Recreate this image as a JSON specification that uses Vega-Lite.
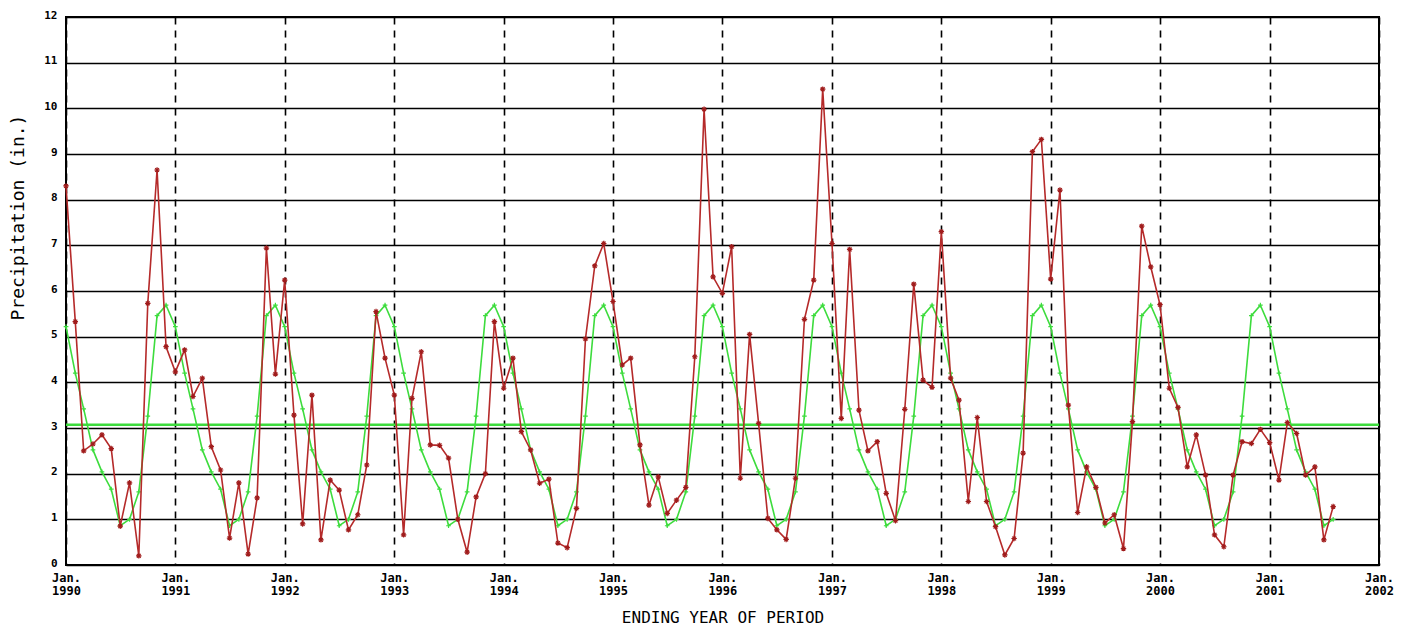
{
  "$schema": "https://vega.github.io/schema/vega-lite/v6.json",
  "autosize": {"type": "none"},
  "width": 1313,
  "height": 548,
  "padding": {"left": 66, "top": 17, "right": 30, "bottom": 61},
  "background": "white",
  "config": {
    "view": {"stroke": "black", "strokeWidth": 2},
    "font": "DejaVu Sans Mono"
  },
  "datasets": {
    "avg": [{"avg": 3.07}],
    "obs": [
      {"date": "1990-01-01", "precip": 8.3, "normal": 5.22},
      {"date": "1990-02-01", "precip": 5.33, "normal": 4.2},
      {"date": "1990-03-01", "precip": 2.5, "normal": 3.42},
      {"date": "1990-04-01", "precip": 2.65, "normal": 2.52},
      {"date": "1990-05-01", "precip": 2.85, "normal": 2.04},
      {"date": "1990-06-01", "precip": 2.55, "normal": 1.66},
      {"date": "1990-07-01", "precip": 0.85, "normal": 0.86},
      {"date": "1990-08-01", "precip": 1.8, "normal": 1.0},
      {"date": "1990-09-01", "precip": 0.2, "normal": 1.6},
      {"date": "1990-10-01", "precip": 5.73, "normal": 3.26},
      {"date": "1990-11-01", "precip": 8.65, "normal": 5.46},
      {"date": "1990-12-01", "precip": 4.78, "normal": 5.69},
      {"date": "1991-01-01", "precip": 4.23, "normal": 5.22},
      {"date": "1991-02-01", "precip": 4.71, "normal": 4.2},
      {"date": "1991-03-01", "precip": 3.69, "normal": 3.42},
      {"date": "1991-04-01", "precip": 4.09, "normal": 2.52},
      {"date": "1991-05-01", "precip": 2.59, "normal": 2.04},
      {"date": "1991-06-01", "precip": 2.08, "normal": 1.66},
      {"date": "1991-07-01", "precip": 0.59, "normal": 0.86},
      {"date": "1991-08-01", "precip": 1.8, "normal": 1.0},
      {"date": "1991-09-01", "precip": 0.24, "normal": 1.6},
      {"date": "1991-10-01", "precip": 1.47, "normal": 3.26},
      {"date": "1991-11-01", "precip": 6.94, "normal": 5.46},
      {"date": "1991-12-01", "precip": 4.18, "normal": 5.69},
      {"date": "1992-01-01", "precip": 6.24, "normal": 5.22},
      {"date": "1992-02-01", "precip": 3.28, "normal": 4.2},
      {"date": "1992-03-01", "precip": 0.9, "normal": 3.42},
      {"date": "1992-04-01", "precip": 3.72, "normal": 2.52},
      {"date": "1992-05-01", "precip": 0.55, "normal": 2.04},
      {"date": "1992-06-01", "precip": 1.86, "normal": 1.66},
      {"date": "1992-07-01", "precip": 1.64, "normal": 0.86},
      {"date": "1992-08-01", "precip": 0.77, "normal": 1.0},
      {"date": "1992-09-01", "precip": 1.1, "normal": 1.6},
      {"date": "1992-10-01", "precip": 2.19, "normal": 3.26},
      {"date": "1992-11-01", "precip": 5.55, "normal": 5.46},
      {"date": "1992-12-01", "precip": 4.53, "normal": 5.69},
      {"date": "1993-01-01", "precip": 3.72, "normal": 5.22},
      {"date": "1993-02-01", "precip": 0.66, "normal": 4.2},
      {"date": "1993-03-01", "precip": 3.65, "normal": 3.42},
      {"date": "1993-04-01", "precip": 4.67, "normal": 2.52},
      {"date": "1993-05-01", "precip": 2.63, "normal": 2.04},
      {"date": "1993-06-01", "precip": 2.62, "normal": 1.66},
      {"date": "1993-07-01", "precip": 2.34, "normal": 0.86},
      {"date": "1993-08-01", "precip": 1.0, "normal": 1.0},
      {"date": "1993-09-01", "precip": 0.28, "normal": 1.6},
      {"date": "1993-10-01", "precip": 1.49, "normal": 3.26},
      {"date": "1993-11-01", "precip": 2.0, "normal": 5.46},
      {"date": "1993-12-01", "precip": 5.33, "normal": 5.69},
      {"date": "1994-01-01", "precip": 3.87, "normal": 5.22},
      {"date": "1994-02-01", "precip": 4.53, "normal": 4.2},
      {"date": "1994-03-01", "precip": 2.92, "normal": 3.42},
      {"date": "1994-04-01", "precip": 2.52, "normal": 2.52},
      {"date": "1994-05-01", "precip": 1.79, "normal": 2.04},
      {"date": "1994-06-01", "precip": 1.88, "normal": 1.66},
      {"date": "1994-07-01", "precip": 0.48, "normal": 0.86},
      {"date": "1994-08-01", "precip": 0.38, "normal": 1.0},
      {"date": "1994-09-01", "precip": 1.24, "normal": 1.6},
      {"date": "1994-10-01", "precip": 4.95, "normal": 3.26},
      {"date": "1994-11-01", "precip": 6.55, "normal": 5.46},
      {"date": "1994-12-01", "precip": 7.04, "normal": 5.69},
      {"date": "1995-01-01", "precip": 5.77, "normal": 5.22},
      {"date": "1995-02-01", "precip": 4.38, "normal": 4.2},
      {"date": "1995-03-01", "precip": 4.53, "normal": 3.42},
      {"date": "1995-04-01", "precip": 2.63, "normal": 2.52},
      {"date": "1995-05-01", "precip": 1.31, "normal": 2.04},
      {"date": "1995-06-01", "precip": 1.93, "normal": 1.66},
      {"date": "1995-07-01", "precip": 1.13, "normal": 0.86},
      {"date": "1995-08-01", "precip": 1.42, "normal": 1.0},
      {"date": "1995-09-01", "precip": 1.7, "normal": 1.6},
      {"date": "1995-10-01", "precip": 4.56, "normal": 3.26},
      {"date": "1995-11-01", "precip": 9.98, "normal": 5.46},
      {"date": "1995-12-01", "precip": 6.31, "normal": 5.69},
      {"date": "1996-01-01", "precip": 5.95, "normal": 5.22},
      {"date": "1996-02-01", "precip": 6.97, "normal": 4.2},
      {"date": "1996-03-01", "precip": 1.9, "normal": 3.42},
      {"date": "1996-04-01", "precip": 5.05, "normal": 2.52},
      {"date": "1996-05-01", "precip": 3.1, "normal": 2.04},
      {"date": "1996-06-01", "precip": 1.02, "normal": 1.66},
      {"date": "1996-07-01", "precip": 0.77, "normal": 0.86},
      {"date": "1996-08-01", "precip": 0.56, "normal": 1.0},
      {"date": "1996-09-01", "precip": 1.9, "normal": 1.6},
      {"date": "1996-10-01", "precip": 5.38, "normal": 3.26},
      {"date": "1996-11-01", "precip": 6.24, "normal": 5.46},
      {"date": "1996-12-01", "precip": 10.42, "normal": 5.69},
      {"date": "1997-01-01", "precip": 7.04, "normal": 5.22},
      {"date": "1997-02-01", "precip": 3.21, "normal": 4.2},
      {"date": "1997-03-01", "precip": 6.91, "normal": 3.42},
      {"date": "1997-04-01", "precip": 3.39, "normal": 2.52},
      {"date": "1997-05-01", "precip": 2.5, "normal": 2.04},
      {"date": "1997-06-01", "precip": 2.7, "normal": 1.66},
      {"date": "1997-07-01", "precip": 1.57, "normal": 0.86},
      {"date": "1997-08-01", "precip": 0.97, "normal": 1.0},
      {"date": "1997-09-01", "precip": 3.41, "normal": 1.6},
      {"date": "1997-10-01", "precip": 6.15, "normal": 3.26},
      {"date": "1997-11-01", "precip": 4.05, "normal": 5.46},
      {"date": "1997-12-01", "precip": 3.89, "normal": 5.69},
      {"date": "1998-01-01", "precip": 7.3, "normal": 5.22},
      {"date": "1998-02-01", "precip": 4.09, "normal": 4.2},
      {"date": "1998-03-01", "precip": 3.61, "normal": 3.42},
      {"date": "1998-04-01", "precip": 1.39, "normal": 2.52},
      {"date": "1998-05-01", "precip": 3.23, "normal": 2.04},
      {"date": "1998-06-01", "precip": 1.39, "normal": 1.66},
      {"date": "1998-07-01", "precip": 0.84, "normal": 0.86},
      {"date": "1998-08-01", "precip": 0.22, "normal": 1.0},
      {"date": "1998-09-01", "precip": 0.58, "normal": 1.6},
      {"date": "1998-10-01", "precip": 2.45, "normal": 3.26},
      {"date": "1998-11-01", "precip": 9.05, "normal": 5.46},
      {"date": "1998-12-01", "precip": 9.32, "normal": 5.69},
      {"date": "1999-01-01", "precip": 6.26, "normal": 5.22},
      {"date": "1999-02-01", "precip": 8.21, "normal": 4.2},
      {"date": "1999-03-01", "precip": 3.5, "normal": 3.42},
      {"date": "1999-04-01", "precip": 1.15, "normal": 2.52},
      {"date": "1999-05-01", "precip": 2.15, "normal": 2.04},
      {"date": "1999-06-01", "precip": 1.7, "normal": 1.66},
      {"date": "1999-07-01", "precip": 0.92, "normal": 0.86},
      {"date": "1999-08-01", "precip": 1.1, "normal": 1.0},
      {"date": "1999-09-01", "precip": 0.36, "normal": 1.6},
      {"date": "1999-10-01", "precip": 3.14, "normal": 3.26},
      {"date": "1999-11-01", "precip": 7.42, "normal": 5.46},
      {"date": "1999-12-01", "precip": 6.53, "normal": 5.69},
      {"date": "2000-01-01", "precip": 5.7, "normal": 5.22},
      {"date": "2000-02-01", "precip": 3.87, "normal": 4.2},
      {"date": "2000-03-01", "precip": 3.45, "normal": 3.42},
      {"date": "2000-04-01", "precip": 2.15, "normal": 2.52},
      {"date": "2000-05-01", "precip": 2.85, "normal": 2.04},
      {"date": "2000-06-01", "precip": 1.97, "normal": 1.66},
      {"date": "2000-07-01", "precip": 0.66, "normal": 0.86},
      {"date": "2000-08-01", "precip": 0.4, "normal": 1.0},
      {"date": "2000-09-01", "precip": 1.97, "normal": 1.6},
      {"date": "2000-10-01", "precip": 2.7, "normal": 3.26},
      {"date": "2000-11-01", "precip": 2.66, "normal": 5.46},
      {"date": "2000-12-01", "precip": 2.97, "normal": 5.69},
      {"date": "2001-01-01", "precip": 2.68, "normal": 5.22},
      {"date": "2001-02-01", "precip": 1.86, "normal": 4.2},
      {"date": "2001-03-01", "precip": 3.12, "normal": 3.42},
      {"date": "2001-04-01", "precip": 2.88, "normal": 2.52},
      {"date": "2001-05-01", "precip": 1.97, "normal": 2.04},
      {"date": "2001-06-01", "precip": 2.15, "normal": 1.66},
      {"date": "2001-07-01", "precip": 0.55, "normal": 0.86},
      {"date": "2001-08-01", "precip": 1.28, "normal": 1.0}
    ]
  },
  "layer": [
    {
      "data": {"name": "obs"},
      "mark": {"type": "line", "color": "#3ddc3d", "strokeWidth": 1.6},
      "encoding": {
        "x": {
          "field": "date", "type": "temporal",
          "scale": {"type": "utc", "domain": [{"year": 1990, "month": 1, "date": 1, "utc": true}, {"year": 2002, "month": 1, "date": 1, "utc": true}]},
          "axis": {
            "title": "ENDING YEAR OF PERIOD",
            "titleFont": "DejaVu Sans Mono", "titleFontSize": 16, "titleFontWeight": "normal", "titleColor": "black",
            "titleY": 52, "titleBaseline": "middle",
            "tickCount": {"interval": "year", "step": 1},
            "labelExpr": "['Jan.', utcFormat(datum.value, '%Y')]",
            "labelFont": "DejaVu Sans Mono", "labelFontSize": 12, "labelFontWeight": "bold", "labelColor": "black",
            "labelLineHeight": 13, "labelPadding": 7, "labelOverlap": false, "labelFlush": false,
            "ticks": false, "domain": false,
            "grid": true, "gridColor": "black", "gridDash": [7, 6], "gridWidth": 1.6, "gridOpacity": 1
          }
        },
        "y": {
          "field": "normal", "type": "quantitative",
          "scale": {"domain": [0, 12], "nice": false, "zero": true},
          "axis": {
            "title": "Precipitation (in.)",
            "titleFont": "DejaVu Sans Mono", "titleFontSize": 18, "titleFontWeight": "normal", "titleColor": "black",
            "titleX": -48, "titleY": 200, "titleAngle": -90, "titleAlign": "center", "titleBaseline": "middle",
            "values": [0, 1, 2, 3, 4, 5, 6, 7, 8, 9, 10, 11, 12],
            "labelFont": "DejaVu Sans Mono", "labelFontSize": 11, "labelFontWeight": "bold", "labelColor": "black",
            "labelPadding": 9, "labelFlush": false, "labelOffset": -2,
            "ticks": false, "domain": false,
            "grid": true, "gridColor": "black", "gridWidth": 1.6, "gridOpacity": 1
          }
        }
      }
    },
    {
      "data": {"name": "avg"},
      "mark": {"type": "rule", "color": "#3ddc3d", "strokeWidth": 2.5},
      "encoding": {"y": {"field": "avg", "type": "quantitative"}}
    },
    {
      "data": {"name": "obs"},
      "mark": {"type": "point", "shape": "M-1,0L1,0M0,-1L0,1", "size": 22, "filled": false, "color": "#3ddc3d", "strokeWidth": 1.2, "opacity": 1},
      "encoding": {
        "x": {"field": "date", "type": "temporal"},
        "y": {"field": "normal", "type": "quantitative"}
      }
    },
    {
      "data": {"name": "obs"},
      "mark": {"type": "line", "color": "#b52a2a", "strokeWidth": 1.6},
      "encoding": {
        "x": {"field": "date", "type": "temporal"},
        "y": {"field": "precip", "type": "quantitative"}
      }
    },
    {
      "data": {"name": "obs"},
      "mark": {"type": "point", "shape": "M-1,0L1,0M0,-1L0,1M-0.7,-0.7L0.7,0.7M-0.7,0.7L0.7,-0.7", "size": 30, "filled": false, "color": "#a01c1c", "strokeWidth": 1.2, "opacity": 1},
      "encoding": {
        "x": {"field": "date", "type": "temporal"},
        "y": {"field": "precip", "type": "quantitative"}
      }
    }
  ]
}
